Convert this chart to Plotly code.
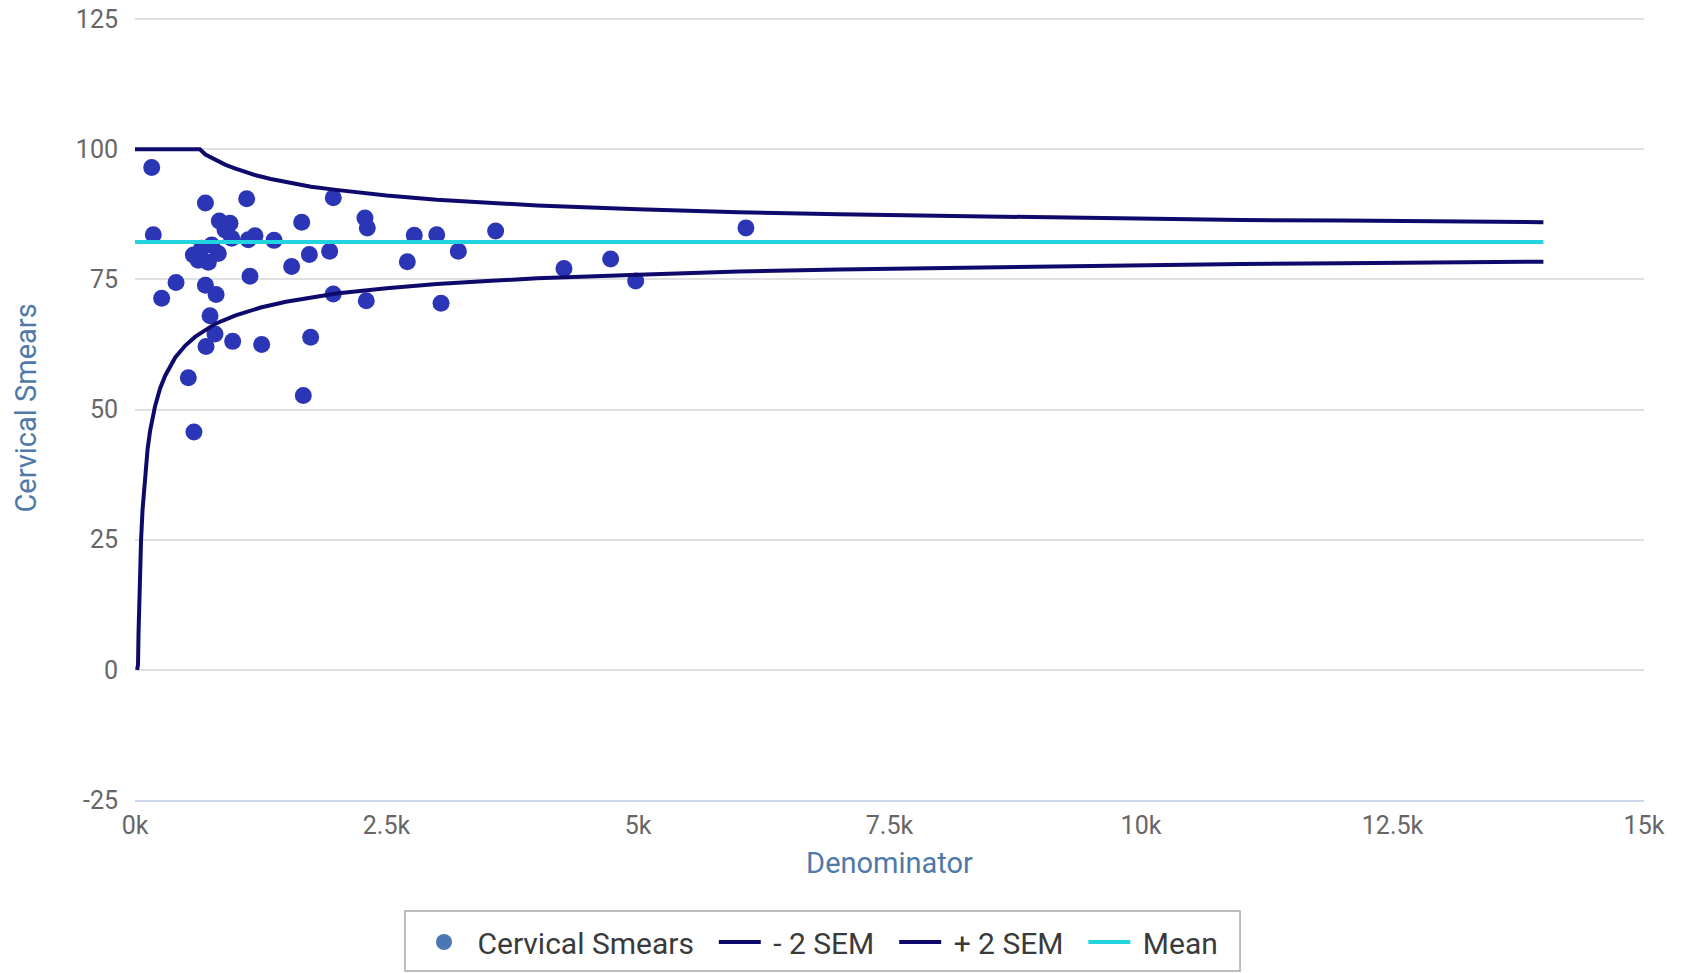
import plotly.graph_objects as go

# --- data ---
smear_denominator = [166, 182, 265, 408, 530, 586, 700, 1110, 1971, 1657,
                     2286, 2309, 3585, 2776, 2999, 3214, 2707, 2299, 3042, 1971,
                     1935, 1733, 1557, 1143, 1746, 1673, 1259, 971, 706, 795,
                     746, 806, 700, 1382, 1193, 1126, 944, 838, 895, 961,
                     580, 663, 762, 828, 729, 629, 4264, 4728, 4977, 6073]
smear_value = [96.5, 83.6, 71.4, 74.4, 56.1, 45.7, 89.7, 90.5, 90.7, 86.0,
               86.8, 84.9, 84.3, 83.5, 83.6, 80.4, 78.4, 70.9, 70.4, 72.2,
               80.4, 79.8, 77.5, 75.6, 63.9, 52.7, 62.5, 63.1, 62.1, 64.5,
               68.0, 72.1, 73.9, 82.5, 83.4, 82.6, 85.8, 86.2, 84.5, 82.9,
               79.7, 81.0, 81.6, 80.0, 78.3, 78.7, 77.1, 78.9, 74.7, 84.9]

lower_x = [21, 30, 35, 40, 50, 60, 75, 100, 125, 150, 200, 250, 300, 400, 500,
           600, 800, 1000, 1250, 1500, 2000, 2500, 3000, 3500, 4000, 5000, 6000,
           7000, 8000, 9000, 10000, 11000, 12000, 13000, 14000]
lower_y = [0, 1.0, 7.0, 11.8, 19.3, 24.8, 30.8, 37.7, 42.4, 45.9, 50.7, 54.1,
           56.5, 60.0, 62.3, 64.0, 66.5, 68.1, 69.6, 70.7, 72.3, 73.3, 74.1,
           74.7, 75.2, 75.9, 76.5, 76.9, 77.2, 77.5, 77.75, 77.96, 78.1, 78.3, 78.4]

upper_x = [0, 645, 700, 750, 800, 900, 1000, 1100, 1200, 1350, 1500, 1750, 2000,
           2500, 3000, 3500, 4000, 5000, 6000, 7000, 8000, 9000, 10000, 11000,
           12000, 13000, 14000]
upper_y = [100, 100, 99.0, 98.45, 97.9, 97.0, 96.3, 95.6, 95.0, 94.3, 93.7,
           92.8, 92.2, 91.1, 90.3, 89.7, 89.2, 88.5, 87.9, 87.5, 87.2, 86.9,
           86.6, 86.4, 86.3, 86.1, 86.0]

mean_x = [0, 14000]
mean_y = [82.2, 82.2]

x_tickvals = [0, 2500, 5000, 7500, 10000, 12500, 15000]
x_ticktext = ["0k", "2.5k", "5k", "7.5k", "10k", "12.5k", "15k"]
y_tickvals = [-25, 0, 25, 50, 75, 100, 125]
y_ticktext = ["-25", "0", "25", "50", "75", "100", "125"]

FONT = "Roboto, Arial, sans-serif"
DOT = "#2B36B6"
NAVY = "#0E0A6C"
CYAN = "#22D4DF"
NB = "\u00a0"
PAD = "\u00a0\u00a0"

fig = go.Figure()
fig.add_trace(go.Scatter(x=smear_denominator, y=smear_value, mode="markers",
                         name="Cervical Smears", showlegend=False,
                         marker=dict(size=17, color=DOT, line=dict(width=0))))
fig.add_trace(go.Scatter(x=[None], y=[None], mode="markers", name=NB + "Cervical Smears" + PAD,
                         marker=dict(size=18, color="#4A78B3", line=dict(width=0))))
fig.add_trace(go.Scatter(x=lower_x, y=lower_y, mode="lines", name=NB + "- 2 SEM" + PAD,
                         line=dict(color=NAVY, width=4)))
fig.add_trace(go.Scatter(x=upper_x, y=upper_y, mode="lines", name=NB + "+ 2 SEM" + PAD,
                         line=dict(color=NAVY, width=4)))
fig.add_trace(go.Scatter(x=mean_x, y=mean_y, mode="lines", name=NB + "Mean",
                         line=dict(color=CYAN, width=4)))

# legend frame (paper coordinates of the plot area)
fig.add_shape(type="rect", xref="paper", yref="paper",
              x0=0.1789, x1=0.7323, y0=-0.2181, y1=-0.1416,
              line=dict(color="#a8a8a8", width=1.5), fillcolor="rgba(0,0,0,0)",
              layer="above")

fig.update_layout(
    width=1681, height=973,
    margin=dict(l=135, r=37, t=16, b=173),
    paper_bgcolor="white", plot_bgcolor="white",
    font=dict(family=FONT, color="#666666"),
    showlegend=True,
    legend=dict(orientation="h", xref="container", yref="container",
                x=418 / 1681, xanchor="left", y=1 - 942 / 973, yanchor="middle",
                borderwidth=0, bgcolor="rgba(0,0,0,0)", itemwidth=42,
                font=dict(family=FONT, size=30, color="#3a3a3a")),
    xaxis=dict(range=[0, 15000], tickvals=x_tickvals, ticktext=x_ticktext,
               showgrid=False, zeroline=False, showline=True, automargin=False,
               linecolor="#ccd6eb", linewidth=2,
               ticks="", ticklabelstandoff=2,
               tickfont=dict(family=FONT, size=25, color="#666666"),
               title=dict(text="Denominator", standoff=14,
                          font=dict(family=FONT, size=29, color="#4f79a8"))),
    yaxis=dict(range=[-25, 125.6], tickvals=y_tickvals, ticktext=y_ticktext,
               showgrid=True, gridcolor="#e0e0e0", gridwidth=1.5, automargin=False,
               zeroline=False, showline=False, ticks="", ticklabelstandoff=16,
               tickfont=dict(family=FONT, size=25, color="#666666"),
               title=dict(text="Cervical Smears", standoff=30,
                          font=dict(family=FONT, size=29, color="#4f79a8"))),
)

fig.write_html("out.html")
